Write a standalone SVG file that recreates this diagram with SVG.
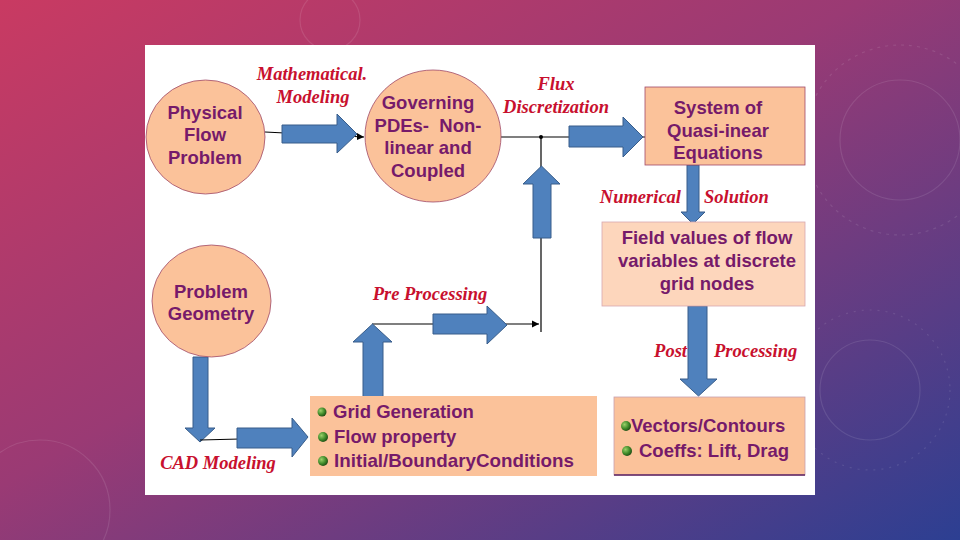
<svg xmlns="http://www.w3.org/2000/svg" width="960" height="540" viewBox="0 0 960 540">
<defs>
<linearGradient id="bg" x1="0" y1="0" x2="1" y2="1">
<stop offset="0" stop-color="#c93a62"/>
<stop offset="0.45" stop-color="#9a3a74"/>
<stop offset="1" stop-color="#2c3f92"/>
</linearGradient>
<radialGradient id="ball" cx="0.35" cy="0.35" r="0.7">
<stop offset="0" stop-color="#9ad06a"/>
<stop offset="0.6" stop-color="#3f8a2a"/>
<stop offset="1" stop-color="#1f4a14"/>
</radialGradient>
<marker id="ah" viewBox="0 0 6 6" refX="6" refY="3" markerWidth="6" markerHeight="6" orient="auto">
<path d="M0,0 L6,3 L0,6 Z" fill="#000"/>
</marker>
<style>
.node{fill:#fbc29a;stroke:#a04a6a;stroke-width:0.8}
.light{fill:#fdd6bc;stroke:#d8a8b0;stroke-width:0.8}
.t{font-family:"Liberation Sans",Arial,sans-serif;font-weight:bold;font-size:18.5px;fill:#761a6a}
.lab{font-family:"Liberation Serif","Times New Roman",serif;font-weight:bold;font-style:italic;font-size:18.5px;fill:#c8102e}
.blk{fill:#4f81bd;stroke:#385d8a;stroke-width:1}
.ln{stroke:#000;stroke-width:1.2;fill:none}
.deco{fill:none;stroke:#ffffff;stroke-opacity:0.1;stroke-width:1.2}
</style>
</defs>
<rect width="960" height="540" fill="url(#bg)"/>
<g id="decor">
<circle cx="900" cy="140" r="60" class="deco"/>
<circle cx="900" cy="140" r="95" class="deco" stroke-dasharray="3 5"/>
<circle cx="870" cy="390" r="50" class="deco"/>
<circle cx="870" cy="390" r="80" class="deco" stroke-dasharray="2 6"/>
<circle cx="40" cy="510" r="70" class="deco"/>
<circle cx="330" cy="20" r="30" class="deco"/>
</g>
<rect x="145" y="45" width="670" height="450" fill="#ffffff"/>

<g id="connectors">
<line x1="265" y1="132" x2="364" y2="137" class="ln" marker-end="url(#ah)"/>
<path class="blk" d="M282,125 H337 V114 L357,134 L337,153 V143 H282 Z"/>
<line x1="501" y1="137" x2="645" y2="137" class="ln"/>
<line x1="541" y1="137" x2="541" y2="332" class="ln"/>
<circle cx="541" cy="137" r="2" fill="#000"/>
<path class="blk" d="M569,126 H623 V117 L643,137 L623,157 V147 H569 Z"/>
<path class="blk" d="M533,238 V184 H523 L541.5,166 L560,184 H551 V238 Z"/>
<line x1="372" y1="324" x2="539" y2="324" class="ln" marker-end="url(#ah)"/>
<path class="blk" d="M433,314 H487 V306 L507,325 L487,344 V334 H433 Z"/>
<path class="blk" d="M363,397 V342 H353 L372.5,324 L392,342 H383 V397 Z"/>
<path class="blk" d="M193,357 V428 H185 L200,442 L215,428 H208 V357 Z"/>
<line x1="200" y1="440" x2="240" y2="439" class="ln"/>
<path class="blk" d="M237,428 H292 V418 L308,437 L292,457 V448 H237 Z"/>
<path class="blk" d="M687,165 V212 H681 L693,224 L705,212 H699 V165 Z"/>
<path class="blk" d="M688,306 V379 H680 L698.5,396 L717,379 H707 V306 Z"/>
</g>

<g id="labels">
<text class="lab" x="312" y="80" text-anchor="middle">Mathematical.</text>
<text class="lab" x="313" y="103" text-anchor="middle">Modeling</text>
<text class="lab" x="556" y="90" text-anchor="middle">Flux</text>
<text class="lab" x="556" y="113" text-anchor="middle">Discretization</text>
<text class="lab" x="681" y="203" text-anchor="end">Numerical</text>
<text class="lab" x="704" y="203">Solution</text>
<text class="lab" x="430" y="300" text-anchor="middle">Pre Processing</text>
<text class="lab" x="687" y="357" text-anchor="end">Post</text>
<text class="lab" x="714" y="357">Processing</text>
<text class="lab" x="218" y="469" text-anchor="middle">CAD Modeling</text>
</g>

<g id="physical">
<ellipse cx="205.5" cy="137" rx="59.5" ry="57" class="node"/>
<text class="t" x="205" y="119" text-anchor="middle">Physical</text>
<text class="t" x="205" y="141" text-anchor="middle">Flow</text>
<text class="t" x="205" y="164" text-anchor="middle">Problem</text>
</g>
<g id="governing">
<ellipse cx="433" cy="136" rx="68" ry="66" class="node"/>
<text class="t" x="428" y="109" text-anchor="middle">Governing</text>
<text class="t" x="428" y="132" text-anchor="middle">PDEs-&#160; Non-</text>
<text class="t" x="428" y="154" text-anchor="middle">linear and</text>
<text class="t" x="428" y="177" text-anchor="middle">Coupled</text>
</g>
<g id="system">
<rect x="645" y="87" width="160" height="78" class="node"/>
<text class="t" x="718" y="114" text-anchor="middle">System of</text>
<text class="t" x="718" y="137" text-anchor="middle">Quasi-inear</text>
<text class="t" x="718" y="159" text-anchor="middle">Equations</text>
</g>
<g id="field">
<rect x="602" y="222" width="203" height="84" class="light"/>
<text class="t" x="707" y="244" text-anchor="middle">Field values of flow</text>
<text class="t" x="707" y="267" text-anchor="middle">variables at discrete</text>
<text class="t" x="707" y="290" text-anchor="middle">grid nodes</text>
</g>
<g id="geometry">
<ellipse cx="211.5" cy="301" rx="59.5" ry="56" class="node"/>
<text class="t" x="211" y="298" text-anchor="middle">Problem</text>
<text class="t" x="211" y="320" text-anchor="middle">Geometry</text>
</g>
<g id="grid">
<rect x="310" y="396" width="287" height="80" fill="#fbc29a"/>
<circle cx="322" cy="412" r="4.5" fill="url(#ball)"/>
<circle cx="323" cy="437" r="5" fill="url(#ball)"/>
<circle cx="323" cy="461" r="5" fill="url(#ball)"/>
<text class="t" x="333" y="418">Grid Generation</text>
<text class="t" x="334" y="443">Flow property</text>
<text class="t" x="334" y="467" textLength="240" lengthAdjust="spacingAndGlyphs">Initial/BoundaryConditions</text>
</g>
<g id="vectors">
<rect x="614" y="397" width="191" height="78" fill="#fbc29a" stroke="#c8a0b0" stroke-width="0.8"/>
<line x1="614" y1="475" x2="805" y2="475" stroke="#5a2060" stroke-width="1.5"/>
<circle cx="626" cy="426" r="5" fill="url(#ball)"/>
<circle cx="627" cy="451" r="5" fill="url(#ball)"/>
<text class="t" x="631" y="432">Vectors/Contours</text>
<text class="t" x="639" y="457">Coeffs: Lift, Drag</text>
</g>
</svg>
